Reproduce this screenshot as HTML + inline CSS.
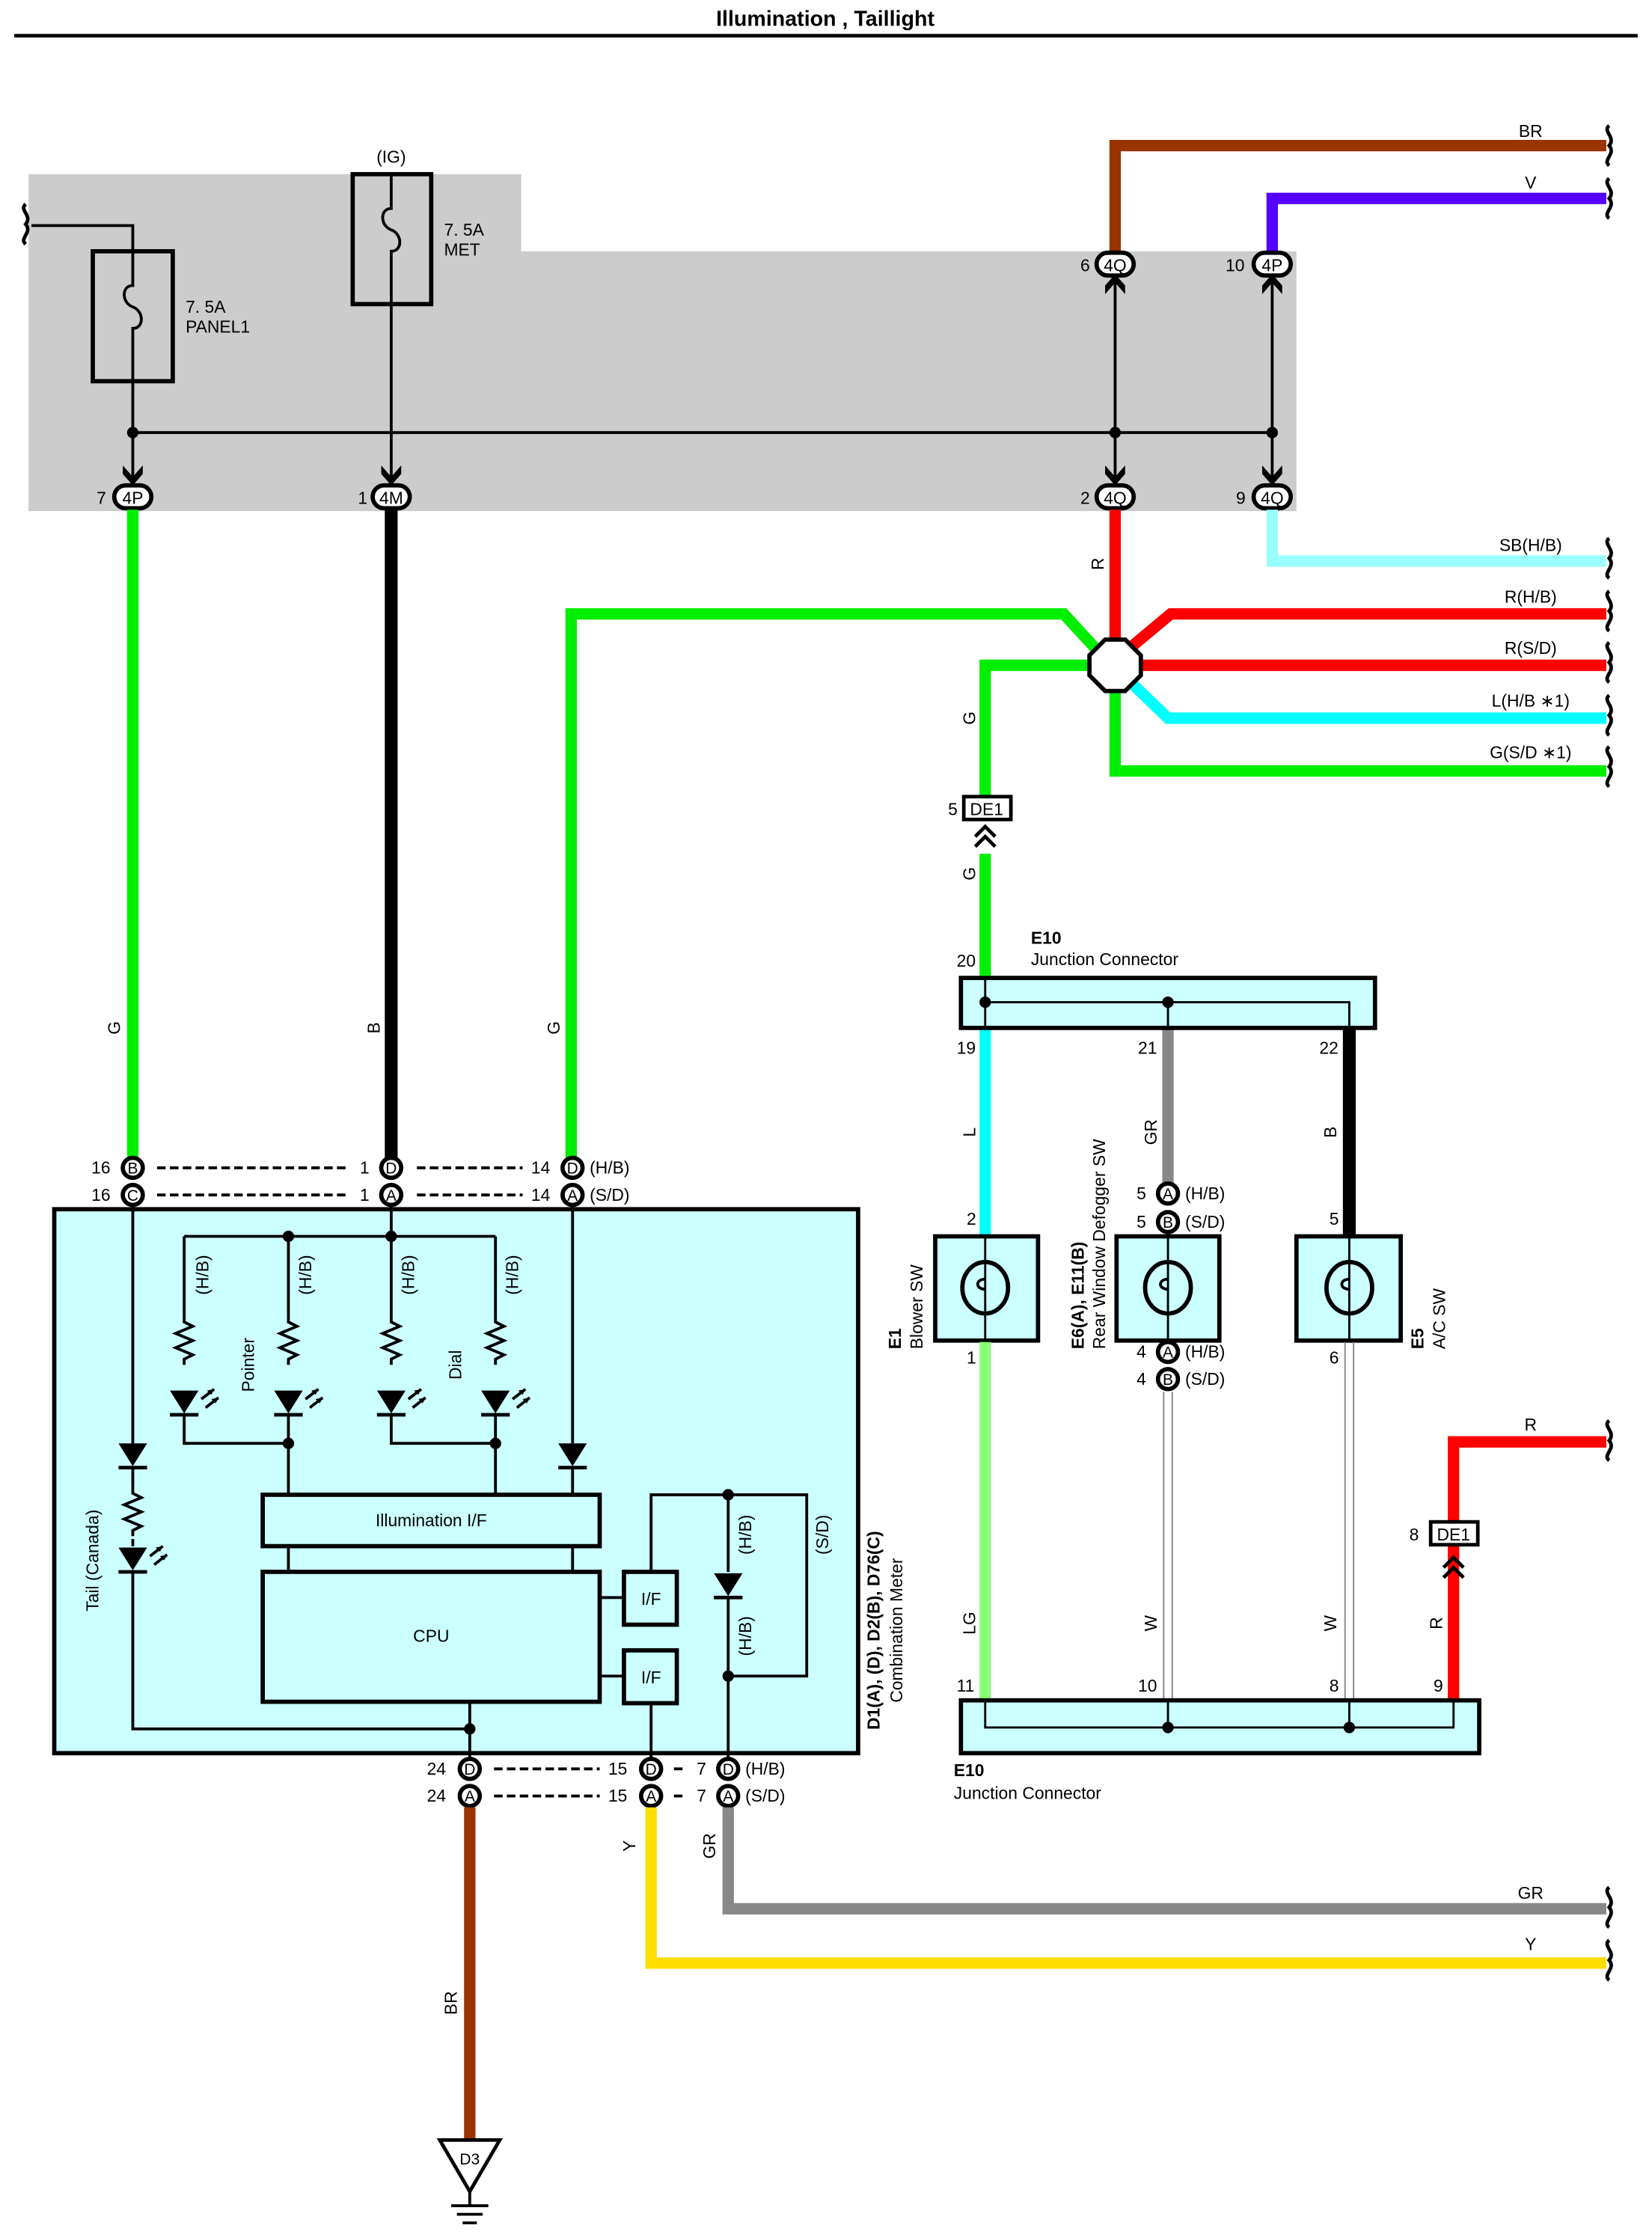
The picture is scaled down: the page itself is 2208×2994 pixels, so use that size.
<!DOCTYPE html>
<html><head><meta charset="utf-8"><style>
html,body{margin:0;padding:0;background:#fff}
svg{display:block}
text{font-family:"Liberation Sans",sans-serif;fill:#000}
</style></head><body>
<svg width="2208" height="2994" viewBox="0 0 1157 1569" preserveAspectRatio="none" xmlns="http://www.w3.org/2000/svg">
<defs>
<g id="chevD"><path d="M-7,-8 L0,0 L7,-8 L7,-2 L0,6 L-7,-2 Z" fill="#000"/></g>
<g id="chevU"><path d="M-7,8 L0,0 L7,8 L7,2 L0,-6 L-7,2 Z" fill="#000"/></g>
<g id="res"><path d="M0,0 l0,4 l6,3 l-12,5 l12,5 l-12,5 l12,5 l-6,3 l0,4" fill="none" stroke="#000" stroke-width="2"/></g>
<g id="led"><path d="M-10,0 L10,0 L0,16 Z" fill="#000"/><line x1="-10" y1="17" x2="10" y2="17" stroke="#000" stroke-width="2.5"/><path d="M12,6 l9,-7 M15,12 l9,-7" stroke="#000" stroke-width="2"/><path d="M21,-1 l-5,1 l3,3z M24,5 l-5,1 l3,3z" fill="#000"/></g>
<g id="dio"><path d="M-10,0 L10,0 L0,16 Z" fill="#000"/><line x1="-10" y1="17" x2="10" y2="17" stroke="#000" stroke-width="2.5"/></g>
<g id="brk"><path d="M0,0 c-5,4 5,8 0,14 c5,6 -5,10 0,14" fill="none" stroke="#000" stroke-width="2.5"/></g>
<g id="sw"><line x1="0" y1="-37" x2="0" y2="37" stroke="#000" stroke-width="1.5"/><ellipse cx="0" cy="0" rx="16" ry="18" fill="none" stroke="#000" stroke-width="3"/><path d="M0,-6 c-7,0 -7,7 0,7" fill="none" stroke="#000" stroke-width="2"/></g>
</defs>

<text x="578" y="18" font-size="15" font-weight="bold" text-anchor="middle">Illumination , Taillight</text>
<line x1="10" y1="25" x2="1147" y2="25" stroke="#000" stroke-width="2.5"/>

<polygon points="20,122 365,122 365,176 908,176 908,358 20,358" fill="#cccccc"/>

<!-- top colored wires -->
<path d="M781,185 V102 H1125" fill="none" stroke="#993300" stroke-width="8"/>
<path d="M891,185 V139 H1125" fill="none" stroke="#5500ff" stroke-width="8"/>
<text x="1072" y="96" font-size="12" text-anchor="middle">BR</text>
<text x="1072" y="132" font-size="12" text-anchor="middle">V</text>
<use href="#brk" x="1127" y="88"/><use href="#brk" x="1127" y="125"/>

<!-- fuses -->
<use href="#brk" x="18" y="143"/>
<path d="M22,158 H93 V176" fill="none" stroke="#000" stroke-width="2"/>
<rect x="65" y="176" width="56" height="91" fill="none" stroke="#000" stroke-width="3"/>
<path d="M93,176 V200 c-8,0 -8,12 0,15 c8,3 8,15 0,15 V267" fill="none" stroke="#000" stroke-width="2"/>
<text x="130" y="219" font-size="12">7. 5A</text><text x="130" y="233" font-size="12">PANEL1</text>
<rect x="247" y="122" width="55" height="91" fill="none" stroke="#000" stroke-width="3"/>
<path d="M274,122 V146 c-8,0 -8,12 0,15 c8,3 8,15 0,15 V213" fill="none" stroke="#000" stroke-width="2"/>
<text x="274" y="114" font-size="12" text-anchor="middle">(IG)</text>
<text x="311" y="165" font-size="12">7. 5A</text><text x="311" y="179" font-size="12">MET</text>
<path d="M93,267 V336 M274,213 V336 M93,303 H891 M781,196 V336 M891,196 V336" stroke="#000" stroke-width="2" fill="none"/>
<circle cx="93" cy="303" r="4"/><circle cx="781" cy="303" r="4"/><circle cx="891" cy="303" r="4"/>
<use href="#chevD" x="93" y="334"/><use href="#chevD" x="274" y="334"/><use href="#chevD" x="781" y="334"/><use href="#chevD" x="891" y="334"/>
<use href="#chevU" x="781" y="198"/><use href="#chevU" x="891" y="198"/>
<g font-size="12" text-anchor="middle" stroke="#000" stroke-width="3">
<rect x="80" y="340" width="26" height="16" rx="8" fill="#fff"/><rect x="261" y="340" width="26" height="16" rx="8" fill="#fff"/>
<rect x="768" y="340" width="26" height="16" rx="8" fill="#fff"/><rect x="878" y="340" width="26" height="16" rx="8" fill="#fff"/>
<rect x="768" y="177" width="26" height="16" rx="8" fill="#fff"/><rect x="878" y="177" width="26" height="16" rx="8" fill="#fff"/>
</g>
<g font-size="12" text-anchor="middle">
<text x="93" y="353">4P</text><text x="274" y="353">4M</text><text x="781" y="353">4Q</text><text x="891" y="353">4Q</text>
<text x="781" y="190">4Q</text><text x="891" y="190">4P</text>
<text x="71" y="353">7</text><text x="254" y="353">1</text><text x="760" y="353">2</text><text x="869" y="353">9</text>
<text x="760" y="190">6</text><text x="865" y="190">10</text>
</g>

<!-- main wires -->
<path d="M93,357 V818" stroke="#00ee00" stroke-width="8" fill="none"/>
<path d="M274,357 V818" stroke="#000" stroke-width="9" fill="none"/>
<path d="M400,818 V430 H745 L768,455" stroke="#00ee00" stroke-width="8" fill="none"/>
<path d="M781,357 V450" stroke="#ff0000" stroke-width="8" fill="none"/>
<path d="M891,357 V393 H1125" stroke="#99ffff" stroke-width="8" fill="none"/>
<path d="M790,455 L820,430 H1125 M790,466 H1125" stroke="#ff0000" stroke-width="8" fill="none"/>
<path d="M792,478 L818,503 H1125" stroke="#00ffff" stroke-width="8" fill="none"/>
<path d="M781,480 V540 H1125" stroke="#00ee00" stroke-width="8" fill="none"/>
<path d="M765,466 H690 V558 M690,598 V684" stroke="#00ee00" stroke-width="8" fill="none"/>
<polygon points="774,448 788,448 799,459 799,473 788,484 774,484 763,473 763,459" fill="#fff" stroke="#000" stroke-width="3"/>
<g font-size="12" text-anchor="middle">
<text x="1072" y="386">SB(H/B)</text><text x="1072" y="422">R(H/B)</text><text x="1072" y="458">R(S/D)</text>
<text x="1072" y="495">L(H/B ∗1)</text><text x="1072" y="531">G(S/D ∗1)</text>
</g>
<use href="#brk" x="1127" y="377"/><use href="#brk" x="1127" y="414"/><use href="#brk" x="1127" y="450"/><use href="#brk" x="1127" y="487"/><use href="#brk" x="1127" y="523"/>
<rect x="675" y="558" width="33" height="16" fill="#fff" stroke="#000" stroke-width="2.5"/>
<text x="691" y="571" font-size="12" text-anchor="middle">DE1</text><text x="664" y="571" font-size="12">5</text>
<path d="M683,586 l7,-7 l7,7 M683,593 l7,-7 l7,7" stroke="#000" stroke-width="2.5" fill="none"/>

<!-- rotated wire labels -->
<g font-size="12" text-anchor="middle">
<text transform="translate(84,720) rotate(-90)">G</text>
<text transform="translate(266,720) rotate(-90)">B</text>
<text transform="translate(392,720) rotate(-90)">G</text>
<text transform="translate(773,395) rotate(-90)">R</text>
<text transform="translate(683,503) rotate(-90)">G</text>
<text transform="translate(683,612) rotate(-90)">G</text>
<text transform="translate(683,793) rotate(-90)">L</text>
<text transform="translate(810,793) rotate(-90)">GR</text>
<text transform="translate(936,793) rotate(-90)">B</text>
<text transform="translate(683,1137) rotate(-90)">LG</text>
<text transform="translate(810,1137) rotate(-90)">W</text>
<text transform="translate(936,1137) rotate(-90)">W</text>
<text transform="translate(1010,1137) rotate(-90)">R</text>
<text transform="translate(445,1293) rotate(-90)">Y</text>
<text transform="translate(501,1293) rotate(-90)">GR</text>
<text transform="translate(320,1403) rotate(-90)">BR</text>
</g>

<!-- E10 top -->
<path d="M690,720 V866" stroke="#00ffff" stroke-width="8"/>
<path d="M818,720 V830" stroke="#888" stroke-width="8"/>
<path d="M945,720 V866" stroke="#000" stroke-width="9"/>
<rect x="673" y="685" width="290" height="35" fill="#ccffff" stroke="#000" stroke-width="3"/>
<path d="M690,685 V720 M690,702 H945 V720 M818,702 V720" stroke="#000" stroke-width="1.5" fill="none"/>
<circle cx="690" cy="702" r="4"/><circle cx="818" cy="702" r="4"/>
<text x="722" y="661" font-size="12" font-weight="bold">E10</text>
<text x="722" y="676" font-size="12">Junction Connector</text>
<g font-size="12"><text x="670" y="677">20</text><text x="670" y="738">19</text><text x="797" y="738">21</text><text x="924" y="738">22</text>
<text x="677" y="858">2</text><text x="931" y="858">5</text><text x="677" y="955">1</text><text x="931" y="955">6</text>
<text x="670" y="1185">11</text><text x="797" y="1185">10</text><text x="931" y="1185">8</text><text x="1004" y="1185">9</text></g>

<!-- switches -->
<rect x="655" y="866" width="72" height="73" fill="#ccffff" stroke="#000" stroke-width="3"/>
<rect x="782" y="866" width="72" height="73" fill="#ccffff" stroke="#000" stroke-width="3"/>
<rect x="908" y="866" width="73" height="73" fill="#ccffff" stroke="#000" stroke-width="3"/>
<use href="#sw" x="690" y="902"/><use href="#sw" x="818" y="902"/><use href="#sw" x="945" y="902"/>
<g stroke="#000" stroke-width="3" fill="#fff"><circle cx="818" cy="836" r="7"/><circle cx="818" cy="856" r="7"/><circle cx="818" cy="947" r="7"/><circle cx="818" cy="966" r="7"/></g>
<g font-size="11" text-anchor="middle"><text x="818" y="840">A</text><text x="818" y="860">B</text><text x="818" y="951">A</text><text x="818" y="970">B</text></g>
<g font-size="12"><text x="796" y="840">5</text><text x="796" y="860">5</text><text x="796" y="951">4</text><text x="796" y="970">4</text>
<text x="830" y="840">(H/B)</text><text x="830" y="860">(S/D)</text><text x="830" y="951">(H/B)</text><text x="830" y="970">(S/D)</text></g>
<text transform="translate(631,945) rotate(-90)" font-size="12" font-weight="bold">E1</text>
<text transform="translate(646,945) rotate(-90)" font-size="12">Blower SW</text>
<text transform="translate(759,945) rotate(-90)" font-size="12" font-weight="bold">E6(A), E11(B)</text>
<text transform="translate(774,945) rotate(-90)" font-size="12">Rear Window Defogger SW</text>
<text transform="translate(997,945) rotate(-90)" font-size="12" font-weight="bold">E5</text>
<text transform="translate(1012,945) rotate(-90)" font-size="12">A/C SW</text>

<!-- lower wires to E10 bottom -->
<path d="M690,940 V1190" stroke="#88ff77" stroke-width="8"/>
<path d="M815,975 V1190 M821,975 V1190 M942,940 V1190 M948,940 V1190" stroke="#888" stroke-width="1"/>
<path d="M1018,1190 V1082 M1018,1065 V1010 H1125" stroke="#ff0000" stroke-width="8" fill="none"/>
<text x="1072" y="1002" font-size="12" text-anchor="middle">R</text><use href="#brk" x="1127" y="995"/>
<rect x="1002" y="1066" width="33" height="16" fill="#fff" stroke="#000" stroke-width="2.5"/>
<text x="1018" y="1079" font-size="12" text-anchor="middle">DE1</text><text x="987" y="1079" font-size="12">8</text>
<path d="M1011,1098 l7,-7 l7,7 M1011,1105 l7,-7 l7,7" stroke="#000" stroke-width="2.5" fill="none"/>
<rect x="673" y="1191" width="363" height="37" fill="#ccffff" stroke="#000" stroke-width="3"/>
<path d="M690,1191 V1210 H1018 V1191 M818,1191 V1210 M945,1191 V1210" stroke="#000" stroke-width="1.5" fill="none"/>
<circle cx="818" cy="1210" r="4"/><circle cx="945" cy="1210" r="4"/>
<text x="668" y="1244" font-size="12" font-weight="bold">E10</text>
<text x="668" y="1260" font-size="12">Junction Connector</text>

<!-- combination meter -->
<rect x="38" y="847" width="563" height="381" fill="#ccffff" stroke="#000" stroke-width="3"/>
<g stroke="#000" stroke-width="2" stroke-dasharray="6,3">
<line x1="110" y1="818" x2="245" y2="818"/><line x1="110" y1="837" x2="245" y2="837"/>
<line x1="292" y1="818" x2="366" y2="818"/><line x1="292" y1="837" x2="366" y2="837"/>
<line x1="346" y1="1239" x2="420" y2="1239"/><line x1="346" y1="1258" x2="420" y2="1258"/>
<line x1="472" y1="1239" x2="480" y2="1239"/><line x1="472" y1="1258" x2="480" y2="1258"/>
</g>
<g stroke="#000" stroke-width="2" fill="none">
<path d="M93,837 V1011 M93,1029 V1042 M93,1078 V1083 M93,1102 V1211 H329"/>
<path d="M129,866 H347 M274,837 V866"/>
<path d="M129,866 V922 M202,866 V922 M274,866 V922 M347,866 V922"/>
<path d="M129,991 V1011 H202 M202,991 V1047 M274,991 V1011 H347 M347,991 V1047"/>
<path d="M401,837 V1011 M401,1029 V1047"/>
<path d="M202,1084 V1101 M401,1084 V1101"/>
<path d="M420,1119 H437 M420,1174 H437"/>
<path d="M456,1101 V1047 H565 V1174 H510 M510,1047 V1101 M510,1120 V1239"/>
<path d="M456,1193 V1239 M329,1193 V1239"/>
</g>
<g><use href="#res" x="129" y="922"/><use href="#res" x="202" y="922"/><use href="#res" x="274" y="922"/><use href="#res" x="347" y="922"/><use href="#res" x="93" y="1042"/></g>
<use href="#led" x="129" y="974"/><use href="#led" x="202" y="974"/><use href="#led" x="274" y="974"/><use href="#led" x="347" y="974"/><use href="#led" x="93" y="1084"/>
<use href="#dio" x="93" y="1011"/><use href="#dio" x="401" y="1011"/><use href="#dio" x="510" y="1102"/>
<circle cx="202" cy="866" r="4"/><circle cx="274" cy="866" r="4"/><circle cx="202" cy="1011" r="4"/><circle cx="347" cy="1011" r="4"/>
<circle cx="329" cy="1211" r="4"/><circle cx="510" cy="1047" r="4"/><circle cx="510" cy="1174" r="4"/>
<rect x="184" y="1047" width="236" height="36" fill="none" stroke="#000" stroke-width="3"/>
<rect x="184" y="1101" width="236" height="91" fill="none" stroke="#000" stroke-width="3"/>
<rect x="437" y="1101" width="37" height="37" fill="none" stroke="#000" stroke-width="3"/>
<rect x="437" y="1156" width="37" height="37" fill="none" stroke="#000" stroke-width="3"/>
<g font-size="12" text-anchor="middle">
<text x="302" y="1069">Illumination I/F</text><text x="302" y="1150">CPU</text>
<text x="456" y="1124">I/F</text><text x="456" y="1179">I/F</text>
</g>
<g font-size="12" text-anchor="middle">
<text transform="translate(146,893) rotate(-90)">(H/B)</text>
<text transform="translate(218,893) rotate(-90)">(H/B)</text>
<text transform="translate(290,893) rotate(-90)">(H/B)</text>
<text transform="translate(363,893) rotate(-90)">(H/B)</text>
<text transform="translate(178,956) rotate(-90)">Pointer</text>
<text transform="translate(323,956) rotate(-90)">Dial</text>
<text transform="translate(69,1093) rotate(-90)">Tail (Canada)</text>
<text transform="translate(526,1075) rotate(-90)">(H/B)</text>
<text transform="translate(526,1146) rotate(-90)">(H/B)</text>
<text transform="translate(580,1075) rotate(-90)">(S/D)</text>
<text transform="translate(616,1142) rotate(-90)" font-weight="bold">D1(A), (D), D2(B), D76(C)</text>
<text transform="translate(632,1142) rotate(-90)">Combination Meter</text>
</g>
<!-- meter pins -->
<g stroke="#000" stroke-width="3" fill="#fff">
<circle cx="93" cy="818" r="7"/><circle cx="93" cy="837" r="7"/><circle cx="274" cy="818" r="7"/><circle cx="274" cy="837" r="7"/>
<circle cx="401" cy="818" r="7"/><circle cx="401" cy="837" r="7"/>
<circle cx="329" cy="1239" r="7"/><circle cx="329" cy="1258" r="7"/><circle cx="456" cy="1239" r="7"/><circle cx="456" cy="1258" r="7"/>
<circle cx="510" cy="1239" r="7"/><circle cx="510" cy="1258" r="7"/>
</g>
<g font-size="11" text-anchor="middle">
<text x="93" y="822">B</text><text x="93" y="841">C</text><text x="274" y="822">D</text><text x="274" y="841">A</text>
<text x="401" y="822">D</text><text x="401" y="841">A</text>
<text x="329" y="1243">D</text><text x="329" y="1262">A</text><text x="456" y="1243">D</text><text x="456" y="1262">A</text>
<text x="510" y="1243">D</text><text x="510" y="1262">A</text>
</g>
<g font-size="12">
<text x="64" y="822">16</text><text x="64" y="841">16</text><text x="252" y="822">1</text><text x="252" y="841">1</text>
<text x="372" y="822">14</text><text x="372" y="841">14</text><text x="413" y="822">(H/B)</text><text x="413" y="841">(S/D)</text>
<text x="299" y="1243">24</text><text x="299" y="1262">24</text><text x="426" y="1243">15</text><text x="426" y="1262">15</text>
<text x="488" y="1243">7</text><text x="488" y="1262">7</text><text x="522" y="1243">(H/B)</text><text x="522" y="1262">(S/D)</text>
</g>

<!-- bottom wires -->
<path d="M329,1266 V1498" stroke="#993300" stroke-width="8"/>
<path d="M456,1266 V1375 H1125" stroke="#ffdd00" stroke-width="8" fill="none"/>
<path d="M510,1266 V1337 H1125" stroke="#888" stroke-width="8" fill="none"/>
<text x="1072" y="1330" font-size="12" text-anchor="middle">GR</text>
<text x="1072" y="1366" font-size="12" text-anchor="middle">Y</text>
<use href="#brk" x="1127" y="1322"/><use href="#brk" x="1127" y="1359"/>
<polygon points="308,1499 350,1499 329,1535" fill="#fff" stroke="#000" stroke-width="2.5"/>
<text x="329" y="1516" font-size="11" text-anchor="middle">D3</text>
<path d="M329,1535 V1545 M316,1545 H342 M320,1551 H338 M324,1557 H334" stroke="#000" stroke-width="2"/>
</svg>
</body></html>
